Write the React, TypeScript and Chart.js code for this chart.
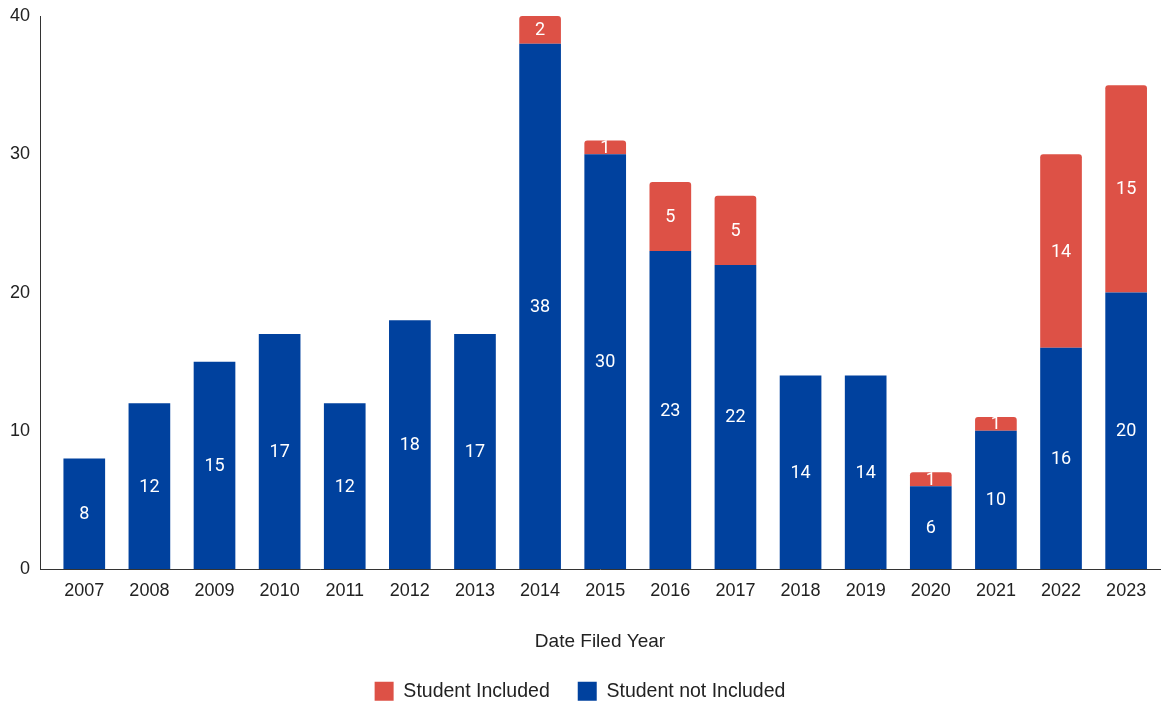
import React, { useEffect, useRef } from "react";
import { Chart, registerables } from "chart.js";

Chart.register(...registerables);

const years = ["2007","2008","2009","2010","2011","2012","2013","2014","2015","2016","2017","2018","2019","2020","2021","2022","2023"];
const studentNotIncluded = [8,12,15,17,12,18,17,38,30,23,22,14,14,6,10,16,20];
const studentIncluded = [null,null,null,null,null,null,null,2,1,5,5,null,null,1,1,14,15];
const yTicks = [0, 10, 20, 30, 40];

const BLUE = "#00419E";
const RED = "#DD5146";
const LABEL_FONT = "Roboto, 'Liberation Sans', Arial, sans-serif";
const AXIS_FONT = "'Liberation Sans', Arial, sans-serif";

const labelPlugin = {
  id: "barLabels",
  afterDatasetsDraw(chart: any) {
    const ctx = chart.ctx;
    ctx.save();
    ctx.fillStyle = "#ffffff";
    ctx.font = `18px ${LABEL_FONT}`;
    ctx.textAlign = "center";
    ctx.textBaseline = "middle";
    chart.data.datasets.forEach((ds: any, di: number) => {
      const meta = chart.getDatasetMeta(di);
      if (meta.hidden) return;
      meta.data.forEach((el: any, i: number) => {
        const v = ds.data[i]?.y;
        if (v == null || v <= 0) return;
        ctx.fillText(String(v), el.x, (el.y + el.base) / 2 + 1);
      });
    });
    ctx.restore();
  },
};

export default function App() {
  const ref = useRef<HTMLCanvasElement>(null);
  useEffect(() => {
    document.body.style.margin = "0";
    const chart = new Chart(ref.current!, {
      type: "bar",
      data: {
        datasets: [
          {
            label: "Student not Included",
            data: studentNotIncluded.map((v, i) => ({ x: i, y: v })),
            backgroundColor: BLUE,
            borderRadius: 0,
            barPercentage: 0.64,
            categoryPercentage: 1,
          },
          {
            label: "Student Included",
            data: studentIncluded.map((v, i) => ({ x: i, y: v })),
            backgroundColor: RED,
            borderRadius: 3,
            borderSkipped: "start",
            barPercentage: 0.64,
            categoryPercentage: 1,
          },
        ],
      },
      options: {
        animation: false,
        responsive: false,
        layout: { padding: { top: 16, right: 1, bottom: -6, left: 0 } },
        scales: {
          x: {
            type: "linear",
            stacked: true,
            offset: false,
            min: -0.68,
            max: 16.52,
            grid: { display: false, drawTicks: false },
            border: { display: true, color: "#333", width: 1 },
            afterBuildTicks: (s: any) => {
              s.ticks = years.map((_, i) => ({ value: i }));
            },
            ticks: {
              autoSkip: false,
              maxRotation: 0,
              padding: 11,
              color: "#222",
              font: { family: AXIS_FONT, size: 18 },
              callback: (v: any) => years[v] ?? "",
            },
            title: {
              display: true,
              text: "Date Filed Year",
              color: "#222",
              font: { family: AXIS_FONT, size: 19 },
              padding: { top: 18, bottom: 0 },
            },
          },
          y: {
            stacked: true,
            min: 0,
            max: 40,
            grid: { display: false, drawTicks: false },
            border: { display: true, color: "#333", width: 1 },
            afterBuildTicks: (s: any) => {
              s.ticks = yTicks.map((v) => ({ value: v }));
            },
            afterFit: (s: any) => {
              s.width = 40;
              s.paddingTop = 0;
              s.paddingBottom = 0;
            },
            ticks: {
              padding: 10,
              color: "#222",
              font: { family: AXIS_FONT, size: 18 },
            },
          },
        },
        plugins: {
          legend: {
            position: "bottom",
            labels: {
              boxWidth: 19,
              boxHeight: 19,
              padding: 28,
              color: "#222",
              font: { family: AXIS_FONT, size: 19.5 },
              sort: (a: any, b: any) => b.datasetIndex - a.datasetIndex,
            },
          },
          tooltip: { enabled: false },
        },
      },
      plugins: [labelPlugin],
    } as any);
    return () => chart.destroy();
  }, []);
  return (
    <div style={{ width: 1161, height: 705 }}>
      <canvas ref={ref} width={1161} height={705} style={{ display: "block" }} />
    </div>
  );
}
